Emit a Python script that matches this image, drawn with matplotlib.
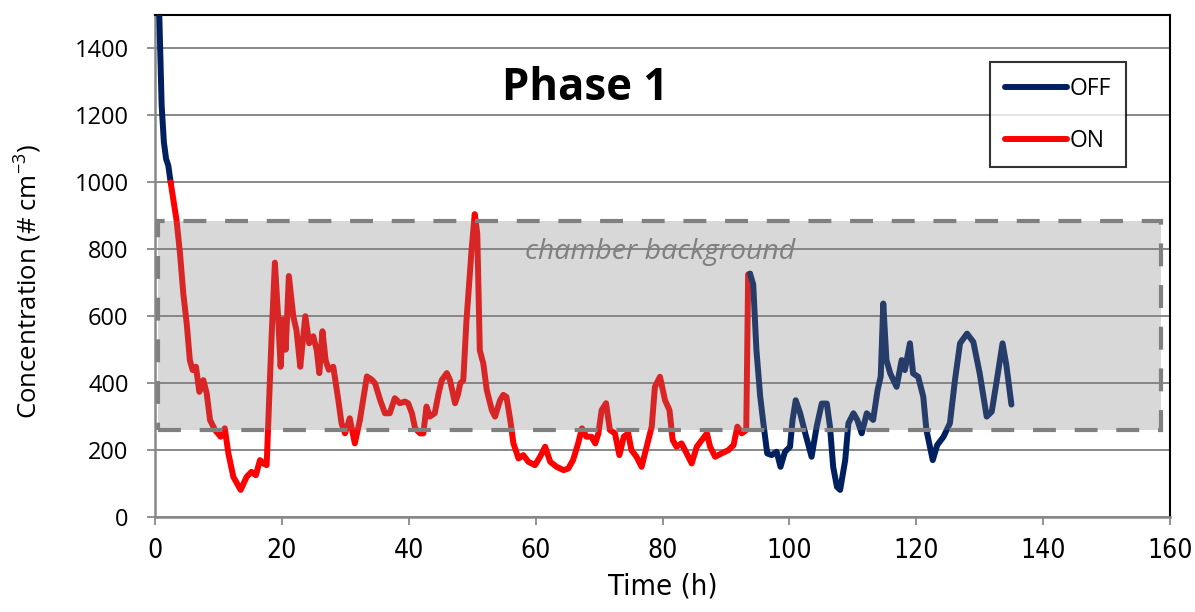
import numpy as np
import matplotlib.pyplot as plt
from matplotlib.patches import Rectangle
from matplotlib.lines import Line2D

plt.rcParams['font.family'] = ['Open Sans', 'DejaVu Sans']
plt.rcParams['mathtext.fontset'] = 'custom'
plt.rcParams['mathtext.rm'] = 'Open Sans'

# first OFF period (start of the run)
off1_t = [0.35, 0.68, 1.05, 1.4, 1.75, 2.1, 2.47]
off1_c = [1650, 1498, 1230, 1120, 1070, 1050, 1000]

# ON period
on_t = [2.47, 3.4, 3.94, 4.46, 5.0, 5.5, 5.94, 6.46, 6.99, 7.62, 8.15, 8.67, 9.46,
        10.35, 11.0, 11.56, 12.35, 13.5, 14.45, 15.2, 15.9, 16.55, 17.1, 17.6, 18.0,
        18.4, 18.9, 19.44, 19.8, 20.2, 20.6, 21.1, 21.8, 22.3, 22.9, 23.2, 23.7, 24.3,
        24.95, 25.5, 25.9, 26.4, 26.9, 27.4, 28.1, 28.9, 29.4, 29.95, 30.7, 31.5, 32.3,
        32.8, 33.4, 34.2, 34.7, 35.5, 36.25, 37.0, 37.8, 38.6, 39.4, 39.9, 40.5, 41.0,
        41.8, 42.3, 42.8, 43.3, 44.1, 44.7, 45.2, 46.0, 46.5, 47.3, 47.8, 48.1, 48.6,
        49.1, 49.9, 50.4, 50.8, 51.2, 51.75, 52.3, 53.1, 53.6, 54.4, 54.9, 55.4, 56.0,
        56.5, 57.3, 58.05, 58.85, 59.9, 60.7, 61.5, 62.3, 63.3, 64.4, 65.15, 65.9, 66.7,
        67.3, 68.0, 68.8, 69.4, 69.9, 70.4, 71.1, 71.7, 72.5, 73.2, 73.9, 74.6, 75.1,
        75.9, 76.7, 77.5, 78.3, 78.8, 79.6, 80.4, 81.1, 81.6, 82.2, 83.0, 83.8, 84.6,
        85.4, 86.2, 87.0, 87.5, 88.3, 89.3, 90.4, 91.2, 91.8, 92.5, 93.2, 93.5, 93.8]
on_c = [1000, 886, 788, 668, 578, 468, 439, 449, 374, 409, 370, 290, 260,
        240, 265, 191, 120, 81, 120, 135, 125, 170, 160, 155, 350,
        549, 760, 588, 449, 590, 500, 720, 600, 558, 449, 508, 600, 519,
        540, 498, 430, 555, 468, 440, 449, 349, 280, 250, 295, 220, 290,
        349, 420, 410, 399, 349, 310, 310, 355, 340, 345, 340, 310, 265,
        250, 250, 330, 300, 310, 369, 409, 430, 409, 340, 369, 399, 409,
        588, 797, 905, 847, 498, 459, 379, 319, 300, 349, 365, 359, 290,
        220, 175, 185, 165, 155, 180, 210, 165, 150, 140, 145, 170, 220,
        265, 240, 240, 220, 250, 319, 340, 260, 250, 185, 240, 250, 200,
        180, 150, 210, 270, 389, 419, 349, 319, 230, 210, 220, 190, 160,
        210, 230, 250, 210, 180, 190, 200, 215, 270, 250, 260, 725, 727]

# second OFF period
off2_t = [93.8, 94.3, 94.8, 95.4, 95.9, 96.5, 97.2, 98.0, 98.6, 99.3, 100.1, 100.5,
          101.0, 101.7, 102.5, 103.5, 104.3, 105.1, 105.9, 106.4, 106.9, 107.5, 108.0,
          108.8, 109.3, 110.1, 110.7, 111.4, 112.2, 113.2, 113.9, 114.4, 114.8, 115.3,
          115.9, 116.9, 117.7, 118.2, 119.0, 119.5, 120.3, 121.1, 121.6, 122.6, 123.3,
          124.3, 125.3, 126.1, 126.9, 128.0, 129.0, 130.0, 131.1, 131.9, 132.7, 133.6,
          134.2, 135.0]
off2_c = [727, 695, 500, 360, 280, 190, 185, 195, 150, 195, 210, 290,
          349, 310, 250, 180, 270, 339, 339, 270, 150, 90, 81,
          170, 280, 310, 290, 250, 310, 290, 379, 420, 638, 469,
          429, 389, 469, 439, 519, 429, 419, 360, 260, 170, 215,
          240, 280, 409, 519, 548, 523, 429, 300, 315, 409, 519,
          454, 336]

bg_low, bg_high = 260, 885
bg_t0, bg_t1 = 0.5, 158.6

navy = '#002060'
red = '#ff0000'
grid = '#888888'
lw = 4.3

fig = plt.figure(figsize=(11.95, 6.12), dpi=100)
ax = fig.add_axes([0.1297, 0.1552, 0.8494, 0.8203])

for t, c, col in [(off1_t, off1_c, navy), (on_t, on_c, red), (off2_t, off2_c, navy)]:
    ax.plot(t, c, color=col, lw=lw, solid_capstyle='round', solid_joinstyle='round', zorder=3)

# chamber background band (drawn over the lines, translucent)
ax.add_patch(Rectangle((bg_t0, bg_low), bg_t1 - bg_t0, bg_high - bg_low,
                       facecolor=(0.5, 0.5, 0.5, 0.3), edgecolor='none', zorder=4))
ax.add_patch(Rectangle((bg_t0, bg_low), bg_t1 - bg_t0, bg_high - bg_low,
                       facecolor='none', edgecolor='#808080', lw=3,
                       linestyle=(0, (5.5, 4.5)), zorder=5))

ax.text(79.6, 791, 'chamber background', style='italic', color='#808080',
        fontsize=20.5, ha='center', va='center', zorder=6)
ax.text(67.8, 1280, 'Phase 1', fontweight='bold', fontsize=31.5,
        ha='center', va='center', zorder=6)

ax.set_xlim(0, 160)
ax.set_ylim(0, 1500)
ax.set_xticks(np.arange(0, 161, 20))
ax.set_yticks(np.arange(0, 1401, 200))
ax.grid(axis='y', color=grid, lw=1.4, zorder=1)
ax.set_axisbelow(True)

for s in ['left', 'bottom']:
    ax.spines[s].set_color(grid)
    ax.spines[s].set_linewidth(1.8)
for s in ['top', 'right']:
    ax.spines[s].set_color('black')
    ax.spines[s].set_linewidth(1.5)

ax.tick_params(axis='y', length=6, width=1.3, color=grid, pad=13, labelsize=17)
ax.tick_params(axis='x', length=6, width=1.3, color=grid, pad=9, labelsize=19)
for lab in ax.get_xticklabels():
    lab.set_family('DejaVu Sans')
    lab.set_stretch('condensed')

ax.set_xlabel('Time (h)', fontsize=21, labelpad=6,
              family='DejaVu Sans', stretch='condensed')
ax.set_ylabel('Concentration (# cm$^{-3}$)', fontsize=18.5, va='center')
ax.yaxis.set_label_coords(-0.126, 0.47)

handles = [Line2D([], [], color=navy, lw=lw, solid_capstyle='round'),
           Line2D([], [], color=red, lw=lw, solid_capstyle='round')]
leg = ax.legend(handles, ['OFF', 'ON'], loc='upper left', bbox_to_anchor=(0.823, 0.906),
                fontsize=16.5, frameon=True, fancybox=False, edgecolor='black',
                handlelength=2.7, handletextpad=0.1, labelspacing=1.2,
                borderpad=0.65, borderaxespad=0)
leg.get_frame().set_linewidth(1.5)
leg.set_zorder(7)

fig.savefig('out.png', dpi=100)
